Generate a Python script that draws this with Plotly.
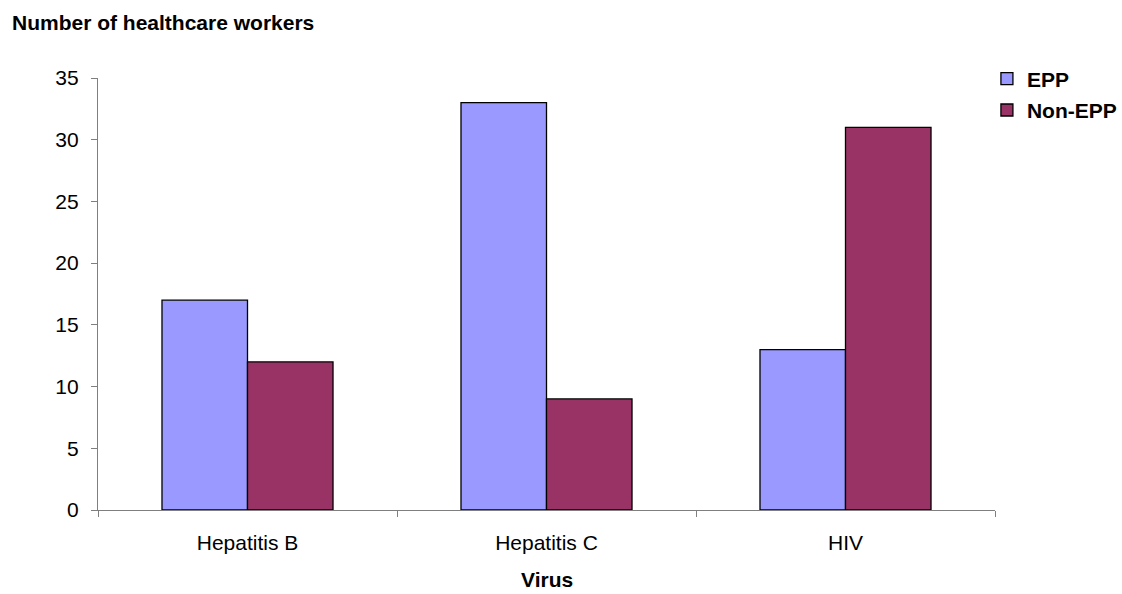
import plotly.graph_objects as go

# Healthcare workers by virus and procedure type
viruses = ["Hepatitis B", "Hepatitis C", "HIV"]
epp_counts = [17, 33, 13]
non_epp_counts = [12, 9, 31]

FONT = "Liberation Sans, Arial, sans-serif"
FONT_SIZE = 21
AXIS_GREY = "#7f7f7f"

fig = go.Figure()
fig.add_trace(go.Bar(
    x=viruses, y=epp_counts, name="<b>EPP</b>",
    marker=dict(color="#9999FF", line=dict(color="#000000", width=1.3)),
    legendgroup="epp",
))
fig.add_trace(go.Bar(
    x=viruses, y=non_epp_counts, name="<b>Non-EPP</b>",
    marker=dict(color="#993366", line=dict(color="#000000", width=1.3)),
    legendgroup="nonepp",
))

fig.update_layout(
    width=1122, height=594,
    margin=dict(l=98, r=127, t=78, b=84, autoexpand=False),
    paper_bgcolor="white", plot_bgcolor="white",
    font=dict(family=FONT, size=FONT_SIZE, color="#000000"),
    barmode="group", bargap=0.428, bargroupgap=0,
    showlegend=True,
    legend=dict(
        x=0.991, xanchor="left", y=1.045, yanchor="top",
        font=dict(family=FONT, size=FONT_SIZE, color="#000000"),
        bgcolor="rgba(0,0,0,0)", borderwidth=0,
        tracegroupgap=1, itemwidth=30,
    ),
    xaxis=dict(
        type="category", showline=True, linecolor=AXIS_GREY, linewidth=1.3,
        ticks="outside", tickson="boundaries", ticklen=6, tickcolor=AXIS_GREY,
        tickwidth=1.3, showgrid=False, zeroline=False,
        tickfont=dict(family=FONT, size=FONT_SIZE, color="#000000"),
        ticklabelstandoff=14,
    ),
    yaxis=dict(
        range=[0, 35], dtick=5, tick0=0, showline=True, linecolor=AXIS_GREY,
        linewidth=1.3, ticks="outside", ticklen=6, tickcolor=AXIS_GREY,
        tickwidth=1.3, showgrid=False, zeroline=False,
        tickfont=dict(family=FONT, size=FONT_SIZE, color="#000000"),
        ticklabelstandoff=8,
    ),
    annotations=[
        dict(text="<b>Number of healthcare workers</b>", xref="paper", yref="paper",
             x=-0.098, y=1.1296, xanchor="left", yanchor="middle", showarrow=False,
             font=dict(family=FONT, size=FONT_SIZE, color="#000000")),
        dict(text="<b>Virus</b>", xref="paper", yref="paper",
             x=0.5, y=-0.162, xanchor="center", yanchor="middle", showarrow=False,
             font=dict(family=FONT, size=FONT_SIZE, color="#000000")),
    ],
)

fig.write_html("out.html")
